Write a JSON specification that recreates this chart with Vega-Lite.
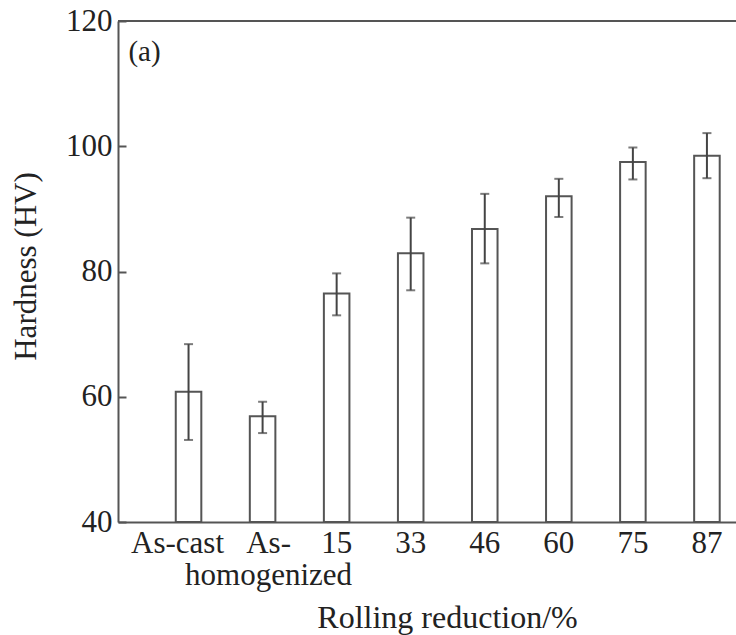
{
  "$schema": "https://vega.github.io/schema/vega-lite/v6.json",
  "autosize": "none",
  "width": 618,
  "height": 501,
  "padding": {"left": 118, "top": 21, "right": 0, "bottom": 113},
  "background": "white",
  "config": {
    "view": {"stroke": null},
    "font": "Liberation Serif",
    "axis": {
      "labelFont": "Liberation Serif",
      "titleFont": "Liberation Serif",
      "labelFontSize": 31,
      "titleFontSize": 31,
      "titleFontWeight": "normal",
      "labelColor": "#222222",
      "titleColor": "#222222",
      "domainColor": "#555555",
      "domainWidth": 2,
      "tickColor": "#555555",
      "tickWidth": 2,
      "grid": false
    }
  },
  "data": {
    "values": [
      {"group": "As-cast", "hardness": 60.8, "low": 53.1, "high": 68.4},
      {"group": "As-homogenized", "hardness": 56.9, "low": 54.2, "high": 59.2},
      {"group": "15", "hardness": 76.5, "low": 73.0, "high": 79.7},
      {"group": "33", "hardness": 82.9, "low": 77.0, "high": 88.6},
      {"group": "46", "hardness": 86.8, "low": 81.3, "high": 92.4},
      {"group": "60", "hardness": 92.0, "low": 88.7, "high": 94.8},
      {"group": "75", "hardness": 97.5, "low": 94.7, "high": 99.8},
      {"group": "87", "hardness": 98.5, "low": 94.9, "high": 102.1}
    ]
  },
  "encoding": {
    "x": {
      "field": "group",
      "type": "nominal",
      "sort": null,
      "scale": {"paddingInner": 0.655, "paddingOuter": 0.5, "align": 0.78},
      "axis": {
        "title": "Rolling reduction/%",
        "labelAngle": 0,
        "ticks": false,
        "labelPadding": 6,
        "labelBaseline": "top",
        "labelLineHeight": 32,
        "labelOffset": {
          "condition": [
            {"test": "datum.value == 'As-cast'", "value": -11},
            {"test": "datum.value == 'As-homogenized'", "value": 6}
          ],
          "value": 0
        },
        "labelExpr": "datum.value == 'As-homogenized' ? ['As-', 'homogenized'] : datum.label",
        "titleFontSize": 32,
        "titleX": 329,
        "titleY": 105,
        "titleBaseline": "alphabetic",
        "titleAnchor": "middle"
      }
    }
  },
  "layer": [
    {
      "mark": {"type": "bar", "fill": "white", "stroke": "#555555", "strokeWidth": 2},
      "encoding": {
        "y": {
          "field": "hardness",
          "type": "quantitative",
          "scale": {"domain": [40, 120], "nice": false, "zero": false},
          "axis": {
            "title": "Hardness (HV)",
            "values": [40, 60, 80, 100, 120],
            "tickSize": -8,
            "labelPadding": 14,
            "titleX": -76,
            "titleY": 245,
            "titleFontSize": 31,
            "titleAngle": -90,
            "titleBaseline": "bottom",
            "titleAlign": "center"
          }
        },
        "y2": {"datum": 40}
      }
    },
    {
      "mark": {"type": "rule", "stroke": "#444444", "strokeWidth": 2},
      "encoding": {
        "y": {"field": "low", "type": "quantitative"},
        "y2": {"field": "high"}
      }
    },
    {
      "mark": {"type": "tick", "color": "#444444", "size": 9, "thickness": 2, "orient": "horizontal"},
      "encoding": {"y": {"field": "low", "type": "quantitative"}}
    },
    {
      "mark": {"type": "tick", "color": "#444444", "size": 9, "thickness": 2, "orient": "horizontal"},
      "encoding": {"y": {"field": "high", "type": "quantitative"}}
    },
    {
      "data": {"values": [{"v": 120}]},
      "mark": {"type": "rule", "stroke": "#555555", "strokeWidth": 2},
      "encoding": {"y": {"field": "v", "type": "quantitative"}, "x": null}
    },
    {
      "data": {"values": [{"label": "(a)", "g": "As-cast", "v": 115.0}]},
      "mark": {"type": "text", "fontSize": 29, "font": "Liberation Serif", "color": "#222222", "dx": -44, "baseline": "middle"},
      "encoding": {
        "x": {"field": "g", "type": "nominal", "sort": null},
        "y": {"field": "v", "type": "quantitative"},
        "text": {"field": "label"}
      }
    }
  ]
}
